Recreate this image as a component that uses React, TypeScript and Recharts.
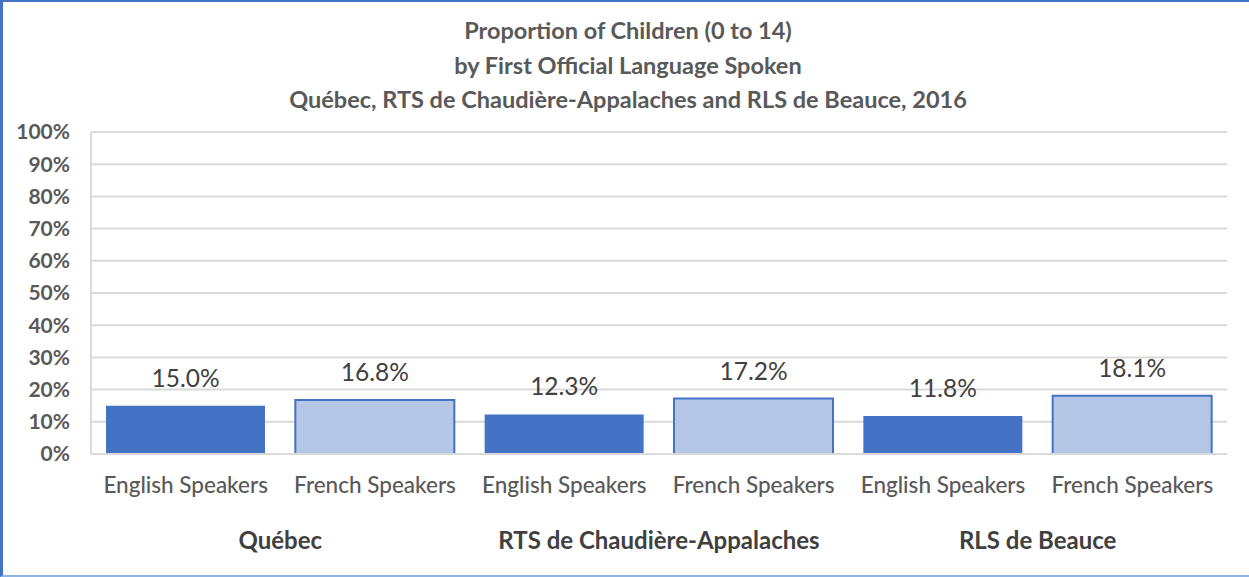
import { Bar, BarChart, CartesianGrid, Cell, LabelList, XAxis, YAxis } from "recharts";

const categories = [
  "English Speakers",
  "French Speakers",
  "English Speakers",
  "French Speakers",
  "English Speakers",
  "French Speakers",
];
const groups = [
  "Québec",
  "Québec",
  "RTS de Chaudière-Appalaches",
  "RTS de Chaudière-Appalaches",
  "RLS de Beauce",
  "RLS de Beauce",
];
const values = [15.0, 16.8, 12.3, 17.2, 11.8, 18.1];
const yTicks = [0, 10, 20, 30, 40, 50, 60, 70, 80, 90, 100];
const titleLines = [
  "Proportion of Children (0 to 14)",
  "by First Official Language Spoken",
  "Québec, RTS de Chaudière-Appalaches and RLS de Beauce, 2016",
];

const FONT = "Lato, 'Noto Sans', sans-serif";
const GRID = "#d9d9d9";
const TEXT = "#595959";

const data = categories.map((c, i) => ({ id: i, cat: c, group: groups[i], value: values[i] }));

export default function App() {
  return (
    <div
      style={{
        position: "absolute",
        left: 0,
        top: 0,
        width: 1249,
        height: 577,
        background: "#fff",
        fontFamily: FONT,
      }}
    >
      <div
        style={{
          position: "absolute",
          inset: 0,
          borderLeft: "3px solid #4472C4",
          borderTop: "2px solid #4472C4",
          borderBottom: "2px solid #8EB4E3",
          pointerEvents: "none",
          zIndex: 2,
        }}
      />
      <BarChart
        width={1249}
        height={577}
        data={data}
        margin={{ top: 132, right: 22, bottom: 10, left: 0 }}
        barCategoryGap={15}
      >
        {/* three-line title, Excel style */}
        <text textAnchor="middle" fill={TEXT} fontFamily={FONT} fontWeight={700} fontSize={23.5}>
          {titleLines.map((t, i) => (
            <tspan key={i} x={628} y={39 + i * 34.5}>
              {t}
            </tspan>
          ))}
        </text>
        <CartesianGrid stroke={GRID} strokeWidth={2} vertical={false} />
        <XAxis
          dataKey="id"
          xAxisId={0}
          height={50}
          axisLine={{ stroke: GRID, strokeWidth: 2 }}
          tickLine={false}
          tickSize={0}
          tickMargin={23}
          tickFormatter={(i: number) => categories[i]}
          tick={{ fill: TEXT, fontSize: 22.5, fontWeight: 500, fontFamily: FONT }}
          interval={0}
        />
        <XAxis
          dataKey="group"
          xAxisId="grp"
          allowDuplicatedCategory={false}
          height={63}
          axisLine={false}
          tickLine={false}
          tickSize={0}
          tickMargin={28}
          tick={{ fill: "#404040", fontSize: 24, fontWeight: 700, fontFamily: FONT }}
          interval={0}
        />
        <YAxis
          width={91}
          domain={[0, 100]}
          ticks={yTicks}
          interval={0}
          axisLine={{ stroke: GRID, strokeWidth: 2 }}
          tickLine={false}
          tickSize={0}
          tickMargin={21}
          tickFormatter={(v: number) => `${v}%`}
          tick={{ fill: TEXT, fontSize: 21, fontWeight: 700, fontFamily: FONT }}
        />
        <YAxis
          yAxisId="right"
          orientation="right"
          width={0}
          domain={[0, 100]}
          axisLine={{ stroke: GRID, strokeWidth: 2 }}
          tick={false}
          tickLine={false}
        />
        <Bar dataKey="value" isAnimationActive={false}>
          {data.map((d) => (
            <Cell
              key={d.id}
              fill={d.id % 2 === 0 ? "#4472C4" : "#B4C7E7"}
              stroke={d.id % 2 === 0 ? "none" : "#4472C4"}
              strokeWidth={2}
            />
          ))}
          <LabelList
            dataKey="value"
            position="top"
            offset={19}
            formatter={(v: number) => `${Number(v).toFixed(1)}%`}
            style={{ fill: "#404040", fontSize: 24.5, fontFamily: FONT }}
          />
        </Bar>
      </BarChart>
    </div>
  );
}
